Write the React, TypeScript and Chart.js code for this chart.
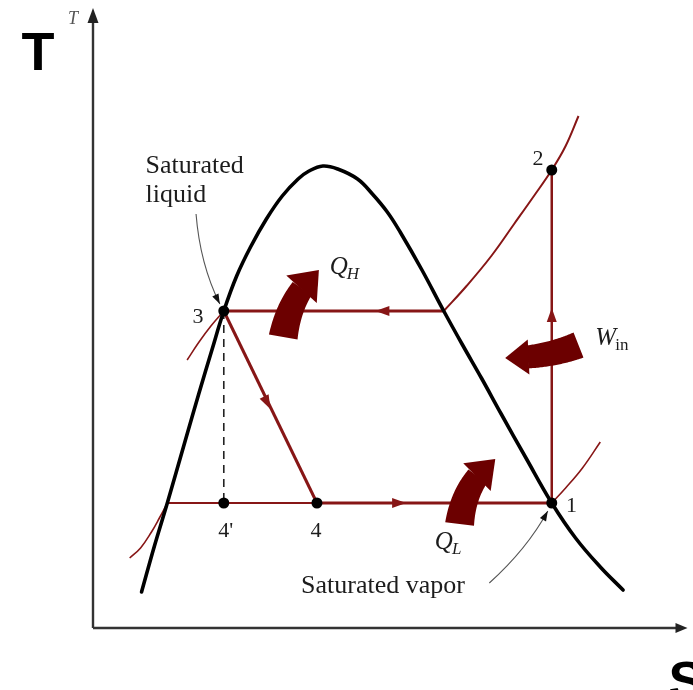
import React, { useEffect, useRef } from "react";
import { Chart, registerables } from "chart.js";

Chart.register(...registerables);

// ---- data (s = entropy, T = temperature, arbitrary units) ----
// saturation dome
const domeS = [0.49, 0.62, 0.75, 0.93, 1.07, 1.2, 1.32, 1.45, 1.59, 1.75, 1.91, 2.07, 2.18, 2.32, 2.47, 2.67, 2.82, 2.97, 3.1, 3.32, 3.54, 3.73, 3.92, 4.12, 4.37, 4.63, 4.87, 5.12, 5.35];
const domeT = [0.36, 0.82, 1.25, 1.87, 2.35, 2.78, 3.17, 3.52, 3.81, 4.09, 4.32, 4.49, 4.57, 4.62, 4.59, 4.49, 4.34, 4.16, 3.96, 3.58, 3.17, 2.83, 2.5, 2.14, 1.7, 1.25, 0.9, 0.61, 0.38];

// high-pressure isobar (superheated part)
const highS = [3.54, 3.77, 4.02, 4.25, 4.45, 4.63, 4.77, 4.9];
const highT = [3.17, 3.42, 3.72, 4.04, 4.32, 4.58, 4.82, 5.12];
// high-pressure isobar (compressed liquid part)
const liqS = [0.95, 1.07, 1.19, 1.32];
const liqT = [2.68, 2.86, 3.02, 3.17];
// low-pressure isobar, left and right extensions
const lowLS = [0.37, 0.48, 0.59, 0.67, 0.75];
const lowLT = [0.7, 0.8, 0.96, 1.1, 1.25];
const lowRS = [4.63, 4.77, 4.94, 5.12];
const lowRT = [1.25, 1.4, 1.6, 1.86];

// condenser line (3 -> sat. vapour) and evaporator lines
const condS = [1.32, 3.54];
const condT = [3.17, 3.17];
const evapAS = [0.75, 2.26];
const evapBS = [2.26, 4.63];
const evapT = [1.25, 1.25];

// states
const stateLabels = ["1", "2", "3", "4", "4'"];
const stateS = [4.63, 4.63, 1.32, 2.26, 1.32];
const stateT = [1.25, 4.58, 3.17, 1.25, 1.25];

// flow-direction arrow positions on cycle lines [s, T, toward s, toward T]
const flowS = [2.85, 3.16, 4.63, 1.79];
const flowT = [3.17, 1.25, 3.2, 2.19];
const flowToS = [1.32, 4.63, 4.63, 2.26];
const flowToT = [3.17, 1.25, 4.58, 1.25];

// heat / work arrows: tail, bend, tip
const heatLabels = ["QH", "QL", "Win"];
const heatTailS = [1.92, 3.7, 4.9];
const heatTailT = [2.91, 1.04, 2.83];
const heatBendS = [1.99, 3.75, 4.57];
const heatBendT = [3.33, 1.46, 2.7];
const heatTipS = [2.28, 4.06, 4.16];
const heatTipT = [3.58, 1.69, 2.7];

const RED = "#871616";
const DARK = "#6c0000";
const INK = "#1c1c1c";
const SERIF = '"Liberation Serif", "DejaVu Serif", serif';

const pts = (s: number[], t: number[]) => s.map((x, i) => ({ x, y: t[i] }));

function line(data: { x: number; y: number }[], color: string, width: number, order: number, extra: any = {}) {
  return {
    data,
    showLine: true,
    borderColor: color,
    borderWidth: width,
    pointRadius: 0,
    pointHoverRadius: 0,
    fill: false,
    order,
    clip: false,
    ...extra,
  };
}

function quad(p0: number[], p1: number[], p2: number[], t: number) {
  const a = (1 - t) * (1 - t), b = 2 * (1 - t) * t, c = t * t;
  return [a * p0[0] + b * p1[0] + c * p2[0], a * p0[1] + b * p1[1] + c * p2[1]];
}

function thickArrow(ctx: CanvasRenderingContext2D, p0: number[], p1: number[], p2: number[], w0: number, w1: number, headW: number, headL: number) {
  const N = 60;
  const samples: number[][] = [];
  const cum: number[] = [0];
  for (let i = 0; i <= N; i++) samples.push(quad(p0, p1, p2, i / N));
  for (let i = 1; i <= N; i++) {
    const d = Math.hypot(samples[i][0] - samples[i - 1][0], samples[i][1] - samples[i - 1][1]);
    cum.push(cum[i - 1] + d);
  }
  const total = cum[N];
  let k = N;
  while (k > 0 && total - cum[k] < headL) k--;
  const left: number[][] = [];
  const right: number[][] = [];
  for (let i = 0; i <= k; i++) {
    const a = samples[Math.max(0, i - 1)];
    const b = samples[Math.min(N, i + 1)];
    let dx = b[0] - a[0], dy = b[1] - a[1];
    const len = Math.hypot(dx, dy) || 1;
    dx /= len; dy /= len;
    const w = (w0 + (w1 - w0) * (i / k)) / 2;
    left.push([samples[i][0] - dy * w, samples[i][1] + dx * w]);
    right.push([samples[i][0] + dy * w, samples[i][1] - dx * w]);
  }
  ctx.save();
  ctx.fillStyle = DARK;
  ctx.beginPath();
  left.forEach((p, i) => (i ? ctx.lineTo(p[0], p[1]) : ctx.moveTo(p[0], p[1])));
  for (let i = right.length - 1; i >= 0; i--) ctx.lineTo(right[i][0], right[i][1]);
  ctx.closePath();
  ctx.fill();
  const base = samples[k];
  let dx = p2[0] - base[0], dy = p2[1] - base[1];
  const l = Math.hypot(dx, dy) || 1;
  dx /= l; dy /= l;
  ctx.beginPath();
  ctx.moveTo(base[0] - dy * headW / 2 - dx * 1, base[1] + dx * headW / 2 - dy * 1);
  ctx.lineTo(p2[0], p2[1]);
  ctx.lineTo(base[0] + dy * headW / 2 - dx * 1, base[1] - dx * headW / 2 - dy * 1);
  ctx.closePath();
  ctx.fill();
  ctx.restore();
}

function headAt(ctx: CanvasRenderingContext2D, x: number, y: number, ang: number, len: number, wid: number, color: string) {
  ctx.save();
  ctx.translate(x, y);
  ctx.rotate(ang);
  ctx.fillStyle = color;
  ctx.beginPath();
  ctx.moveTo(0, 0);
  ctx.lineTo(-len, -wid / 2);
  ctx.lineTo(-len, wid / 2);
  ctx.closePath();
  ctx.fill();
  ctx.restore();
}

function leader(ctx: CanvasRenderingContext2D, p0: number[], p1: number[], p2: number[]) {
  ctx.save();
  ctx.strokeStyle = "#555";
  ctx.lineWidth = 1.1;
  ctx.beginPath();
  ctx.moveTo(p0[0], p0[1]);
  ctx.quadraticCurveTo(p1[0], p1[1], p2[0], p2[1]);
  ctx.stroke();
  ctx.restore();
  const ang = Math.atan2(p2[1] - p1[1], p2[0] - p1[0]);
  headAt(ctx, p2[0], p2[1], ang, 10, 7, "#111");
}

// leader curves (start, bend, end) in data units
const leaderS = [[1.04, 1.08, 1.28], [4.0, 4.38, 4.59]];
const leaderT = [[4.14, 3.64, 3.24], [0.45, 0.79, 1.17]];

export default function App() {
  const ref = useRef<HTMLCanvasElement>(null);

  useEffect(() => {
    const canvas = ref.current!;
    const overlay = {
      id: "overlay",
      afterDatasetsDraw(chart: any) {
        const ctx: CanvasRenderingContext2D = chart.ctx;
        const xs = chart.scales.x;
        const ys = chart.scales.y;
        const X = (v: number) => xs.getPixelForValue(v);
        const Y = (v: number) => ys.getPixelForValue(v);
        const P = (s: number, t: number) => [X(s), Y(t)];

        // axes
        ctx.save();
        ctx.strokeStyle = "#333";
        ctx.lineWidth = 2.4;
        const x0 = X(0), y0 = Y(0);
        const yTop = chart.chartArea.top;
        const xRight = chart.chartArea.right;
        ctx.beginPath();
        ctx.moveTo(x0, y0);
        ctx.lineTo(x0, yTop + 10);
        ctx.moveTo(x0, y0);
        ctx.lineTo(xRight - 10, y0);
        ctx.stroke();
        ctx.restore();
        headAt(ctx, x0, yTop, -Math.PI / 2, 15, 11, "#222");
        headAt(ctx, xRight, y0, 0, 12, 10, "#222");

        // flow arrows on cycle lines
        for (let i = 0; i < flowS.length; i++) {
          const [px, py] = P(flowS[i], flowT[i]);
          const [qx, qy] = P(flowToS[i], flowToT[i]);
          headAt(ctx, px, py, Math.atan2(qy - py, qx - px), 14, 10, RED);
        }

        // heat / work arrows
        const dims: Record<string, number[]> = { QH: [29, 23, 41, 24], QL: [29, 23, 39, 24], Win: [27, 23, 35, 22] };
        heatLabels.forEach((lab, i) => {
          const d = dims[lab];
          thickArrow(ctx, P(heatTailS[i], heatTailT[i]), P(heatBendS[i], heatBendT[i]), P(heatTipS[i], heatTipT[i]), d[0], d[1], d[2], d[3]);
        });

        // leaders
        leaderS.forEach((s, i) => {
          const t = leaderT[i];
          leader(ctx, P(s[0], t[0]), P(s[1], t[1]), P(s[2], t[2]));
        });

        // texts
        ctx.save();
        ctx.fillStyle = INK;
        ctx.textBaseline = "alphabetic";
        ctx.textAlign = "left";
        ctx.font = `26px ${SERIF}`;
        ctx.fillText("Saturated", X(0.53), Y(4.55));
        ctx.fillText("liquid", X(0.53), Y(4.26));
        ctx.fillText("Saturated vapor", X(2.1), Y(0.35));

        // state numbers
        ctx.font = `22px ${SERIF}`;
        ctx.textAlign = "center";
        const numPos: Record<string, number[]> = { "1": [4.83, 1.16], "2": [4.49, 4.63], "3": [1.06, 3.05], "4": [2.25, 0.91], "4'": [1.34, 0.91] };
        stateLabels.forEach((lab) => {
          const p = numPos[lab];
          ctx.fillText(lab, X(p[0]), Y(p[1]));
        });

        // Q_H, Q_L, W_in
        ctx.textAlign = "left";
        const sub = (main: string, subTxt: string, s: number, t: number, subItalic: boolean) => {
          ctx.font = `italic 25px ${SERIF}`;
          const x = X(s), y = Y(t);
          ctx.fillText(main, x, y);
          const w = ctx.measureText(main).width;
          ctx.font = `${subItalic ? "italic " : ""}17px ${SERIF}`;
          ctx.fillText(subTxt, x + w - 1, y + 5);
        };
        sub("Q", "H", 2.39, 3.54, true);
        sub("Q", "L", 3.45, 0.79, true);
        sub("W", "in", 5.07, 2.83, false);

        // axis letters
        ctx.font = `italic 18px ${SERIF}`;
        ctx.fillStyle = "#555";
        ctx.fillText("T", x0 - 25, yTop + 16);
        ctx.fillStyle = "#000";
        ctx.font = 'bold 54px "Liberation Sans", Arial, sans-serif';
        ctx.textAlign = "center";
        ctx.fillText("T", x0 - 55, yTop + 62);
        ctx.textAlign = "left";
        ctx.fillText("S", xRight - 19, y0 + 71);
        ctx.restore();
      },
    };

    const chart = new Chart(canvas, {
      type: "scatter",
      data: {
        datasets: [
          {
            data: pts(stateS, stateT),
            showLine: false,
            pointRadius: 5.5,
            pointHoverRadius: 5.5,
            pointBackgroundColor: "#000",
            pointBorderColor: "#000",
            pointBorderWidth: 0,
            order: 0,
            clip: false,
          } as any,
          line(pts(domeS, domeT), "#000", 3.6, 1, { tension: 0.4, borderCapStyle: "round" }),
          line(pts(condS, condT), RED, 3, 2),
          line(pts(evapBS, evapT), RED, 3, 2),
          line(pts(evapAS, evapT), RED, 2, 2),
          line(pts([stateS[0], stateS[1]], [stateT[0], stateT[1]]), RED, 2.5, 2),
          line(pts([stateS[2], stateS[3]], [stateT[2], stateT[3]]), RED, 3, 2),
          line(pts([stateS[2], stateS[4]], [stateT[2], stateT[4]]), "#222", 1.6, 3, { borderDash: [8, 6] }),
          line(pts(highS, highT), RED, 2, 3, { tension: 0.4 }),
          line(pts(liqS, liqT), RED, 1.6, 3, { tension: 0.4 }),
          line(pts(lowLS, lowLT), RED, 1.6, 3, { tension: 0.4 }),
          line(pts(lowRS, lowRT), RED, 1.6, 3, { tension: 0.4 }),
        ] as any,
      },
      options: {
        responsive: false,
        animation: false,
        events: [],
        layout: { padding: { left: 93, right: 0, top: 8, bottom: 62 } },
        plugins: { legend: { display: false }, tooltip: { enabled: false } },
        scales: {
          x: { type: "linear", min: 0, max: 6, display: false },
          y: { type: "linear", min: 0, max: 6.2, display: false },
        },
      } as any,
      plugins: [overlay],
    });
    return () => chart.destroy();
  }, []);

  return (
    <div style={{ position: "fixed", left: 0, top: 0, width: 693, height: 690, background: "#fff" }}>
      <canvas ref={ref} width={693} height={690} style={{ display: "block", width: 693, height: 690 }} />
    </div>
  );
}
